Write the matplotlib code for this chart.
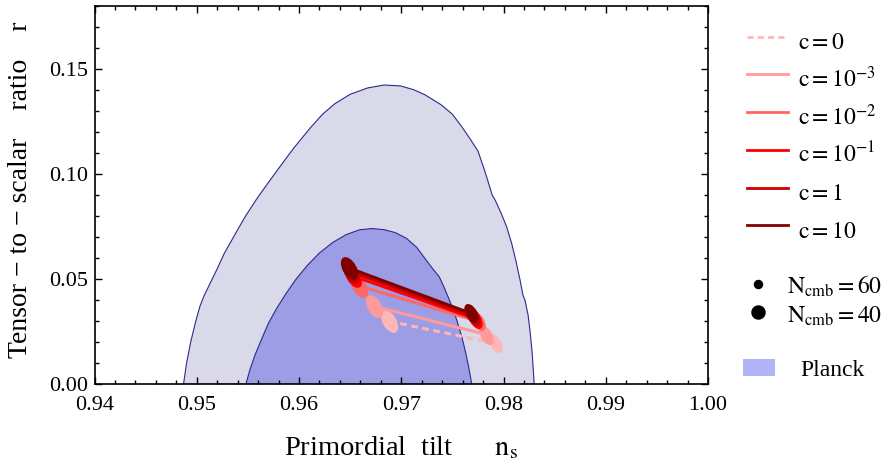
import matplotlib.pyplot as plt
from matplotlib.lines import Line2D
from matplotlib.markers import MarkerStyle
from matplotlib.patches import Patch
from matplotlib.transforms import Affine2D
from matplotlib.ticker import MultipleLocator

plt.rcParams['font.family'] = ['Liberation Serif', 'DejaVu Serif']
plt.rcParams['mathtext.fontset'] = 'stix'

# Planck contours (ns, r)
planck95_ns = [0.9487, 0.9490, 0.9494, 0.9499, 0.9503, 0.9507, 0.9513, 0.9520, 0.9527,
               0.9537, 0.9547, 0.9559, 0.9570, 0.9582, 0.9595, 0.9611, 0.9623, 0.9635,
               0.9650, 0.9667, 0.9683, 0.9699, 0.9712, 0.9723, 0.9739, 0.9750, 0.9759,
               0.9767, 0.9775, 0.9782, 0.9789, 0.9792, 0.9798, 0.9803, 0.9808, 0.9812,
               0.9816, 0.9819, 0.9821, 0.9824, 0.9826, 0.9828, 0.9830]
planck95_r = [0.0, 0.010, 0.020, 0.030, 0.037, 0.042, 0.048, 0.055, 0.0624,
              0.071, 0.0795, 0.0885, 0.096, 0.104, 0.1125, 0.1220, 0.1285, 0.1335,
              0.1380, 0.1410, 0.1424, 0.1420, 0.1402, 0.1378, 0.1330, 0.1285, 0.1227,
              0.1170, 0.1110, 0.1010, 0.0900, 0.0875, 0.0810, 0.0750, 0.0670, 0.0590,
              0.0500, 0.0425, 0.0400, 0.0330, 0.0250, 0.0150, 0.0]

planck68_ns = [0.9548, 0.9552, 0.9557, 0.9563, 0.9570, 0.9578, 0.9587, 0.9597, 0.9608,
               0.9620, 0.9633, 0.9646, 0.9659, 0.9671, 0.9683, 0.9694, 0.9705, 0.9715,
               0.9723, 0.9731, 0.9737, 0.9742, 0.9748, 0.9754, 0.9759, 0.9763, 0.9766, 0.9769]
planck68_r = [0.0, 0.007, 0.014, 0.021, 0.029, 0.036, 0.043, 0.050, 0.0565,
              0.0625, 0.0675, 0.0712, 0.0735, 0.0741, 0.0736, 0.0722, 0.0695, 0.0652,
              0.0600, 0.0548, 0.0513, 0.046, 0.039, 0.031, 0.023, 0.015, 0.008, 0.0]

# model predictions for each c
c_labels = [r'$\mathrm{c}=0$', r'$\mathrm{c}=10^{-3}$', r'$\mathrm{c}=10^{-2}$',
            r'$\mathrm{c}=10^{-1}$', r'$\mathrm{c}=1$', r'$\mathrm{c}=10$']
c_colors = ['#ffb6b6', '#ff9a9a', '#ff6666', '#ff0000', '#cc0000', '#800000']
c_styles = ['--', '-', '-', '-', '-', '-']
ns_N40 = [0.9688, 0.9673, 0.9659, 0.9653, 0.9651, 0.9649]
r_N40 = [0.0300, 0.0372, 0.0468, 0.0515, 0.0535, 0.0553]
ns_N60 = [0.9792, 0.9783, 0.9775, 0.9772, 0.9770, 0.9768]
r_N60 = [0.0195, 0.0237, 0.0300, 0.0312, 0.0325, 0.0338]

fig = plt.figure(figsize=(8.95, 4.66), dpi=100)
ax = fig.add_axes([0.1056, 0.1753, 0.6855, 0.8118])

ax.fill(planck95_ns, planck95_r, facecolor='#d9d9ea', edgecolor='#2b2b8c', lw=0.8)
ax.fill(planck68_ns, planck68_r, facecolor='#9d9de6', edgecolor='#2b2b8c', lw=0.8)

# tilted ellipse markers, like the original
ell = MarkerStyle('o', transform=Affine2D().scale(0.55, 1.0).rotate_deg(30))
for i in range(len(c_labels)):
    ax.plot([ns_N40[i], ns_N60[i]], [r_N40[i], r_N60[i]], color=c_colors[i],
            ls=c_styles[i], lw=2.2, dashes=(2.2, 1.5) if c_styles[i] == '--' else (None, None))
    ax.plot(ns_N40[i], r_N40[i], marker=ell, ms=18, color=c_colors[i], mew=0, ls='none')
    ax.plot(ns_N60[i], r_N60[i], marker=ell, ms=15, color=c_colors[i], mew=0, ls='none')

ax.set_xlim(0.94, 1.00)
ax.set_ylim(0.0, 0.18)
ax.xaxis.set_major_locator(MultipleLocator(0.01))
ax.xaxis.set_minor_locator(MultipleLocator(0.002))
ax.yaxis.set_major_locator(MultipleLocator(0.05))
ax.yaxis.set_minor_locator(MultipleLocator(0.01))
ax.xaxis.set_major_formatter('{x:.2f}')
ax.yaxis.set_major_formatter('{x:.2f}')
ax.tick_params(which='both', direction='in', top=True, right=True, labelsize=16, width=1)
ax.tick_params(which='major', length=5)
ax.tick_params(which='minor', length=3)
ax.tick_params(axis='x', pad=8.5)
ax.tick_params(axis='y', pad=4.5)
for s in ax.spines.values():
    s.set_linewidth(1.2)

ax.set_xlabel('Primordial  tilt      $\\mathrm{n_s}$', fontsize=20.5, labelpad=14)
ax.set_ylabel('Tensor \u2212 to \u2212 scalar    ratio    r', fontsize=20, labelpad=10)
ax.yaxis.set_label_coords(-0.1, 0.513)

c_handles = [Line2D([], [], color=c_colors[i], lw=2, ls=c_styles[i],
                    dashes=(2.2, 1.5) if c_styles[i] == '--' else (None, None))
             for i in range(len(c_labels))]
leg1 = fig.legend(c_handles, c_labels, loc='upper left', bbox_to_anchor=(747 / 895, 1 - 24 / 466),
                  frameon=False, fontsize=17, handlelength=1.74, handleheight=1.93,
                  labelspacing=0.1, handletextpad=0.42, borderpad=0, borderaxespad=0)

n_handles = [Line2D([], [], color='black', marker='o', ms=5.8, ls='none'),
             Line2D([], [], color='black', marker='o', ms=9.4, ls='none')]
n_labels = [r'$\mathrm{N_{cmb}}=60$', r'$\mathrm{N_{cmb}}=40$']
leg2 = fig.legend(n_handles, n_labels, loc='upper left', bbox_to_anchor=(746 / 895, 1 - 274 / 466),
                  frameon=False, fontsize=17, handlelength=1.02, handleheight=1.2,
                  labelspacing=0.12, handletextpad=0.72, borderpad=0, borderaxespad=0, numpoints=1)

p_handles = [Patch(facecolor='#b3b3f8', edgecolor='none')]
leg3 = fig.legend(p_handles, ['Planck'], loc='upper left', bbox_to_anchor=(743 / 895, 1 - 359 / 466),
                  frameon=False, fontsize=17, handlelength=1.35, handleheight=0.7,
                  handletextpad=1.06, borderpad=0, borderaxespad=0)

fig.savefig('out.png', dpi=100)
